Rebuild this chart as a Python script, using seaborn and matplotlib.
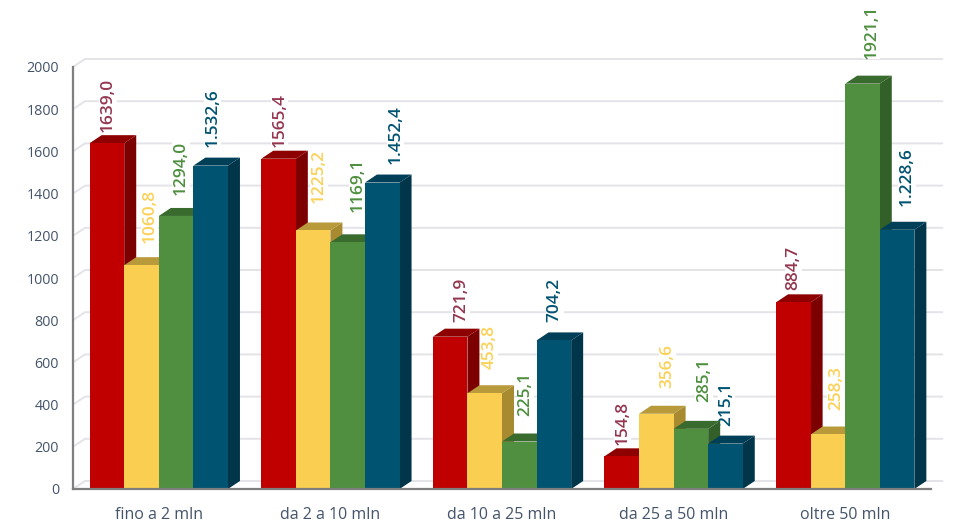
import matplotlib
matplotlib.use("Agg")
import matplotlib.pyplot as plt
import seaborn as sns
import pandas as pd
from matplotlib.patches import Polygon

categories = ["fino a 2 mln", "da 2 a 10 mln", "da 10 a 25 mln", "da 25 a 50 mln", "oltre 50 mln"]
series_a = [1639.0, 1565.4, 721.9, 154.8, 884.7]
series_b = [1060.8, 1225.2, 453.8, 356.6, 258.3]
series_c = [1294.0, 1169.1, 225.1, 285.1, 1921.1]
series_d = [1532.6, 1452.4, 704.2, 215.1, 1228.6]
labels_a = ["1639,0", "1565,4", "721,9", "154,8", "884,7"]
labels_b = ["1060,8", "1225,2", "453,8", "356,6", "258,3"]
labels_c = ["1294,0", "1169,1", "225,1", "285,1", "1921,1"]
labels_d = ["1.532,6", "1.452,4", "704,2", "215,1", "1.228,6"]
yticks = [0, 200, 400, 600, 800, 1000, 1200, 1400, 1600, 1800, 2000]

series_names = ["A", "B", "C", "D"]
front = ["#C00000", "#FACE50", "#4F8F3F", "#005371"]
top_c = ["#8E0000", "#B89A3A", "#3A6B2E", "#003F58"]
side_c = ["#7C0000", "#A88A30", "#335F29", "#00354A"]
label_c = ["#943650", "#FBD157", "#4E8F3F", "#005371"]
# label nudges in pixels, one row per series
shift_x = [[1, 1, 11, 1, 0], [8, 6, 5, 11, 8], [5, 10, 6, 13, 9], [2, 13, 1, 1, 10]]
shift_y = [[3, 4, 7, 3, 4], [14, 19, 16, 18, 16], [13, 22, 18, 19, 17], [11, 11, 10, 10, 16]]

W, H = 979, 532
sns.set_style("white")
plt.rcParams["font.family"] = ["Open Sans", "DejaVu Sans"]
fig = plt.figure(figsize=(W / 100, H / 100), dpi=100, facecolor="white")
L, R, T, B = 73, 931, 67, 489
ax = fig.add_axes([L / W, 1 - B / H, (R - L) / W, (B - T) / H])

df = pd.DataFrame({
    "cat": categories * 4,
    "val": series_a + series_b + series_c + series_d,
    "ser": sum([[s] * 5 for s in series_names], []),
})
sns.barplot(data=df, x="cat", y="val", hue="ser", order=categories, hue_order=series_names,
            palette=front, saturation=1, width=0.806, gap=0, legend=False, ax=ax, linewidth=0)
ax.set_xlim(-0.5, 4.5)
ax.set_ylim(0, 2000)
ax.set_xlabel("")
ax.set_ylabel("")

px_x = (R - L) / 5
px_y = (B - T) / 2000
dx = 12 / px_x
dy = 8 / px_y

grid_col = "#E3E3E8"
for v in yticks:
    ax.plot([-0.5, -0.5 + dx, 4.5 + dx * 0.95], [v, v + dy, v + dy], color=grid_col, lw=1.4,
            clip_on=False, zorder=0.5, solid_joinstyle="miter")

all_labels = [labels_a, labels_b, labels_c, labels_d]
for si, cont in enumerate(ax.containers):
    for ci, bar in enumerate(cont.patches):
        x0, w, h = bar.get_x(), bar.get_width(), bar.get_height()
        x1 = x0 + w
        z = 2 + ci * 10 + si * 2
        bar.set_zorder(z + 1)
        ax.add_patch(Polygon([(x1, 0), (x1 + dx, dy), (x1 + dx, h + dy), (x1, h)],
                             closed=True, fc=side_c[si], ec="none", zorder=z, clip_on=False))
        ax.add_patch(Polygon([(x0, h), (x0 + dx, h + dy), (x1 + dx, h + dy), (x1, h)],
                             closed=True, fc=top_c[si], ec="none", zorder=z, clip_on=False))
        ax.annotate(all_labels[si][ci], xy=(x0 + w / 2, h + dy),
                    xytext=(shift_x[si][ci] * 0.72, shift_y[si][ci] * 0.72), textcoords="offset points",
                    rotation=90, ha="center", va="bottom", fontsize=12.4, fontweight="semibold",
                    color=label_c[si], zorder=1, annotation_clip=False,
                    bbox=dict(fc="white", ec="none", pad=0.5))

ax.set_yticks(yticks)
ax.set_yticklabels([str(v) for v in yticks])
ax.tick_params(axis="y", length=0, pad=10, labelsize=10.3, labelcolor="#44546A")
ax.tick_params(axis="x", length=0, pad=13, labelsize=11.5, labelcolor="#44546A")
for s in ["top", "right"]:
    ax.spines[s].set_visible(False)
for s in ["left", "bottom"]:
    ax.spines[s].set_color("#7F7F7F")
    ax.spines[s].set_linewidth(1.6)
    ax.spines[s].set_zorder(150)

fig.savefig("out.png", dpi=100, facecolor="white")
